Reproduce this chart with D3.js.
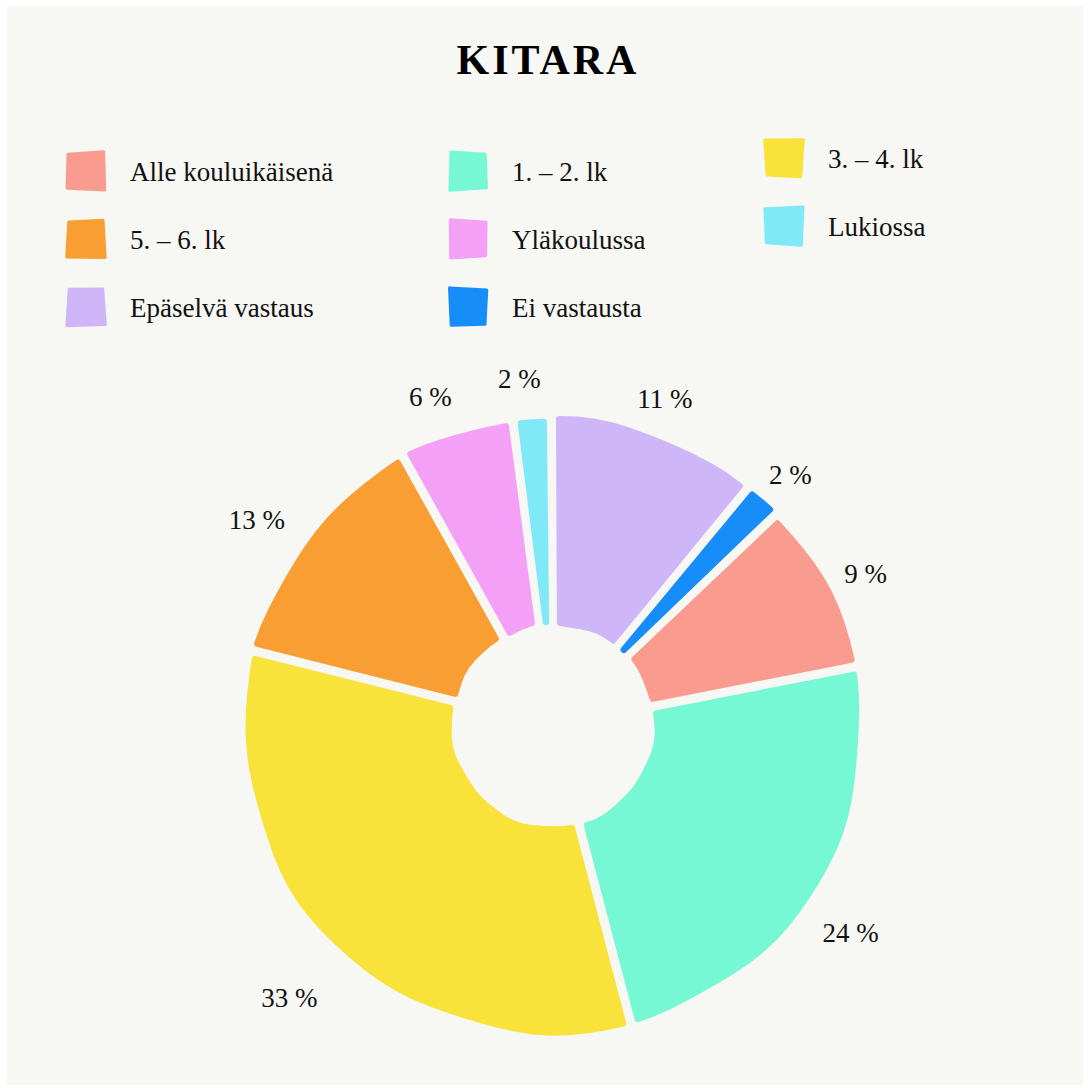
<!DOCTYPE html>
<html>
<head>
<meta charset="utf-8">
<script src="https://cdn.jsdelivr.net/npm/d3@7"></script>
<style>
  body { margin: 0; background: #ffffff; }
</style>
</head>
<body>
<div id="vis"></div>
<script>
// data
let categories = ['Alle kouluikäisenä', '1. – 2. lk', '3. – 4. lk', '5. – 6. lk', 'Yläkoulussa', 'Lukiossa', 'Epäselvä vastaus', 'Ei vastausta']
let values = [9, 24, 33, 13, 6, 2, 11, 2]
let colors = ['#f99b8e', '#76f8d5', '#f9e33b', '#f99e32', '#f5a0f7', '#80e9f8', '#cfb6f8', '#168df8']
let title = 'KITARA'

let W = 1089, H = 1088
let serif = '"Liberation Serif", "Times New Roman", serif'

let svg = d3.select('#vis')
  .append('svg')
  .attr('width', W)
  .attr('height', H)

// background panel
svg.append('rect')
  .attr('x', 7).attr('y', 6)
  .attr('width', 1076).attr('height', 1079)
  .attr('fill', '#f7f7f3')

// title
svg.append('text')
  .attr('x', 548).attr('y', 74)
  .attr('text-anchor', 'middle')
  .attr('font-family', serif)
  .attr('font-size', 42)
  .attr('font-weight', 'bold')
  .attr('letter-spacing', 3)
  .attr('fill', '#000')
  .text(title)

// closed outline, corners rounded by the stroke join
let outline = d3.line().curve(d3.curveLinearClosed)

// legend, 3 columns
let legendCol = d3.scaleOrdinal().domain([0, 1, 2]).range([67, 449, 765])
let legendColShift = [0, 0, -13]
let legend = svg.append('g')
let items = legend.selectAll('g.item')
  .data(categories)
  .join('g')
  .attr('class', 'item')
  .attr('transform', (d, i) => {
    let c = i % 3, r = Math.floor(i / 3)
    return 'translate(' + legendCol(c) + ',' + (171 + r * 68 + legendColShift[c]) + ')'
  })

// slightly wonky square, corners nudged a little
function wonkySquare(i) {
  let s = 37
  let j = (k) => 1.3 * Math.sin(i * 2.3 + k * 1.7)
  return outline([
    [1 + j(0), -18 + j(1)],
    [s + j(2), -18 + j(3)],
    [s + j(4), 18 + j(5)],
    [1 + j(6), 18 + j(7)]
  ])
}

items.append('path')
  .attr('d', (d, i) => wonkySquare(i))
  .attr('fill', (d, i) => colors[i])
  .attr('stroke', (d, i) => colors[i])
  .attr('stroke-width', 3)
  .attr('stroke-linejoin', 'round')

items.append('text')
  .attr('x', 63).attr('y', 10)
  .attr('font-family', serif)
  .attr('font-size', 27)
  .attr('fill', '#111')
  .text(d => d)

// donut
let cx = 553, cy = 726
let outerR = 305, innerR = 104
let startDeg = 46.5
let halfGap = 7.5
let strokeW = 6

let pie = d3.pie()
  .value(d => d)
  .sort(null)
  .startAngle(startDeg * Math.PI / 180)
  .endAngle((startDeg + 360) * Math.PI / 180)

let labelArc = d3.arc()
  .innerRadius(362)
  .outerRadius(362)

let arcs = pie(values)

// small wobble on the radius, deterministic per slice
function wobble(a, k, amp) {
  return amp * (1.8 * Math.sin(6 * a + 1.3 * k) + 0.9 * Math.sin(13 * a + 2.1 * k))
}
function pt(r, a) {
  return [r * Math.sin(a), -r * Math.cos(a)]
}

function slicePath(d, k) {
  let pts = []
  let oOff = Math.asin(halfGap / outerR)
  let iOff = Math.asin(halfGap / innerR)
  let o0 = d.startAngle + oOff, o1 = d.endAngle - oOff
  let i0 = d.startAngle + iOff, i1 = d.endAngle - iOff
  if (i1 - i0 < 0.004) {
    let m = (d.startAngle + d.endAngle) / 2
    i0 = m - 0.002; i1 = m + 0.002
  }
  // outer edge
  let n = Math.max(2, Math.ceil((o1 - o0) / 0.06))
  for (let s = 0; s <= n; s++) {
    let a = o0 + (o1 - o0) * s / n
    pts.push(pt(outerR + wobble(a, k, 1), a))
  }
  // inner edge back
  let m = Math.max(1, Math.ceil((i1 - i0) / 0.1))
  for (let s = 0; s <= m; s++) {
    let a = i1 + (i0 - i1) * s / m
    pts.push(pt(innerR + wobble(a, k + 7, 0.5), a))
  }
  return outline(pts)
}

let chart = svg.append('g')
  .attr('transform', 'translate(' + cx + ',' + cy + ')')

chart.selectAll('path')
  .data(arcs)
  .join('path')
  .attr('d', (d, i) => slicePath(d, i))
  .attr('fill', (d, i) => colors[i])
  .attr('stroke', (d, i) => colors[i])
  .attr('stroke-width', strokeW)
  .attr('stroke-linejoin', 'round')

let labels = svg.append('g')
  .attr('transform', 'translate(' + (cx - 9) + ',' + (cy + 14) + ')')

labels.selectAll('text')
  .data(arcs)
  .join('text')
  .attr('transform', d => 'translate(' + labelArc.centroid(d) + ')')
  .attr('text-anchor', 'middle')
  .attr('dy', '0.35em')
  .attr('font-family', serif)
  .attr('font-size', 27)
  .attr('fill', '#111')
  .text(d => d.data + ' %')
</script>
</body>
</html>
